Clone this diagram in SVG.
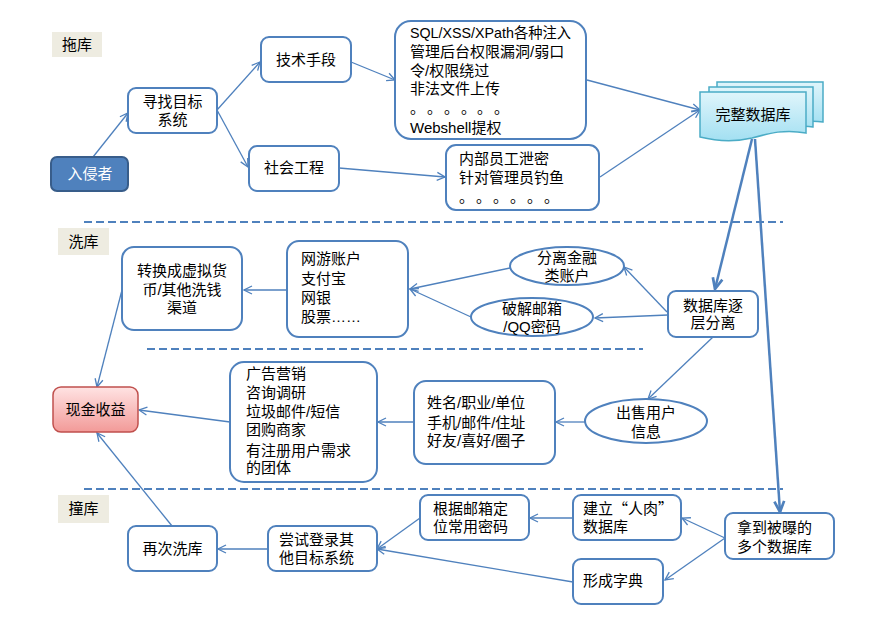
<svg xmlns="http://www.w3.org/2000/svg" width="874" height="627" viewBox="0 0 874 627">
<defs>
<style>
.t{font-family:"Liberation Sans","Noto Sans CJK SC",sans-serif;font-size:15px;fill:#000}
.c{text-anchor:middle}
.box{fill:#fff;stroke:#4F81BD;stroke-width:2}
.lbl{fill:#EEECE1}
.ln{fill:none;stroke:#4F81BD;stroke-width:1.3}
.thick{fill:none;stroke:#4F81BD;stroke-width:2.5}
.dash{fill:none;stroke:#4F81BD;stroke-width:2;stroke-dasharray:8 4}
.doc{fill:url(#gDoc);stroke:#4BACC6;stroke-width:1.5}
.cj{font-family:"Noto Sans CJK SC",sans-serif}
</style>
<linearGradient id="gDoc" x1="0" y1="0" x2="0" y2="1">
<stop offset="0" stop-color="#E0F5FB"/>
<stop offset="1" stop-color="#A3E0F2"/>
</linearGradient>
<linearGradient id="gCash" x1="0" y1="0" x2="0" y2="1">
<stop offset="0" stop-color="#FFE3E3"/>
<stop offset="1" stop-color="#F29A98"/>
</linearGradient>
<marker id="ar" viewBox="0 0 10 10" refX="9" refY="5" markerWidth="10" markerHeight="10" markerUnits="userSpaceOnUse" orient="auto">
<path d="M1,1 L9,5 L1,9" fill="none" stroke="#4F81BD" stroke-width="1.3"/>
</marker>
<marker id="arT" viewBox="0 0 12 12" refX="11" refY="6" markerWidth="13" markerHeight="13" markerUnits="userSpaceOnUse" orient="auto">
<path d="M1,1.5 L11,6 L1,10.5" fill="none" stroke="#4F81BD" stroke-width="2.5"/>
</marker>
</defs>
<rect width="874" height="627" fill="#fff"/>

<g id="dividers">
<line class="dash" x1="84" y1="222" x2="783" y2="222"/>
<line class="dash" x1="147" y1="349" x2="643" y2="349"/>
<line class="dash" x1="84" y1="489" x2="783" y2="489"/>
</g>

<g id="connectors">
<line class="ln" x1="93" y1="157" x2="128" y2="113" marker-end="url(#ar)"/>
<line class="ln" x1="217" y1="110" x2="260" y2="62" marker-end="url(#ar)"/>
<line class="ln" x1="217" y1="110" x2="248" y2="167" marker-end="url(#ar)"/>
<line class="ln" x1="351" y1="62" x2="395" y2="80" marker-end="url(#ar)"/>
<line class="ln" x1="339" y1="168" x2="445" y2="177" marker-end="url(#ar)"/>
<line class="ln" x1="587" y1="80" x2="700" y2="110" marker-end="url(#ar)"/>
<line class="ln" x1="600" y1="177" x2="700" y2="110" marker-end="url(#ar)"/>
<line class="thick" x1="752" y1="139" x2="715" y2="289" marker-end="url(#arT)"/>
<line class="thick" x1="755" y1="139" x2="780" y2="512" marker-end="url(#arT)"/>
<line class="ln" x1="668" y1="315" x2="595" y2="318" marker-end="url(#ar)"/>
<line class="ln" x1="667" y1="312" x2="624" y2="267" marker-end="url(#ar)"/>
<line class="ln" x1="510" y1="268" x2="410" y2="289" marker-end="url(#ar)"/>
<line class="ln" x1="471" y1="317" x2="410" y2="289" marker-end="url(#ar)"/>
<line class="ln" x1="287" y1="290" x2="244" y2="290" marker-end="url(#ar)"/>
<line class="ln" x1="122" y1="290" x2="97" y2="387" marker-end="url(#ar)"/>
<line class="ln" x1="713" y1="337" x2="648" y2="399" marker-end="url(#ar)"/>
<line class="ln" x1="585" y1="422" x2="556" y2="422" marker-end="url(#ar)"/>
<line class="ln" x1="414" y1="422" x2="378" y2="422" marker-end="url(#ar)"/>
<line class="ln" x1="230" y1="422" x2="139" y2="410" marker-end="url(#ar)"/>
<line class="ln" x1="172" y1="526" x2="97" y2="433" marker-end="url(#ar)"/>
<line class="ln" x1="268" y1="549" x2="218" y2="549" marker-end="url(#ar)"/>
<line class="ln" x1="420" y1="518" x2="377" y2="549" marker-end="url(#ar)"/>
<line class="ln" x1="573" y1="582" x2="377" y2="549" marker-end="url(#ar)"/>
<line class="ln" x1="573" y1="518" x2="530" y2="518" marker-end="url(#ar)"/>
<line class="ln" x1="725" y1="538" x2="682" y2="518" marker-end="url(#ar)"/>
<line class="ln" x1="725" y1="538" x2="665" y2="580" marker-end="url(#ar)"/>
</g>

<g id="lbl-tuoku"><rect class="lbl" x="52" y="32" width="50" height="25"/><text class="t c" x="77" y="50">拖库</text></g>
<g id="lbl-xiku"><rect class="lbl" x="58" y="228" width="51" height="27"/><text class="t c" x="83.5" y="247">洗库</text></g>
<g id="lbl-zhuangku"><rect class="lbl" x="58" y="495" width="51" height="28"/><text class="t c" x="83.5" y="514">撞库</text></g>

<g id="intruder"><rect x="51" y="157" width="77" height="34" rx="6" fill="#4F81BD" stroke="#385D8A" stroke-width="2"/><text class="t c" x="90" y="179" style="fill:#fff">入侵者</text></g>

<g id="find"><rect class="box" x="128" y="88" width="89" height="45" rx="8"/><text class="t c" x="172.5" y="107">寻找目标</text><text class="t c" x="172.5" y="125">系统</text></g>

<g id="tech"><rect class="box" x="261" y="37" width="90" height="45" rx="8"/><text class="t c" x="306" y="65">技术手段</text></g>

<g id="social"><rect class="box" x="249" y="146" width="90" height="45" rx="8"/><text class="t c" x="294" y="173">社会工程</text></g>

<g id="sql"><rect class="box" x="395" y="21" width="191" height="118" rx="16"/>
<text class="t" x="410" y="38" textLength="161" lengthAdjust="spacingAndGlyphs">SQL/XSS/XPath各种注入</text>
<text class="t" x="410" y="57">管理后台权限漏洞/弱口</text>
<text class="t" x="410" y="76">令/权限绕过</text>
<text class="t" x="410" y="94">非法文件上传</text>
<text class="t cj" x="410 427 444 461 477 494" y="113">。。。。。。</text>
<text class="t" x="410" y="133">Webshell提权</text>
</g>

<g id="insider"><rect class="box" x="446" y="145" width="153" height="65" rx="10"/>
<text class="t" x="459" y="164">内部员工泄密</text>
<text class="t" x="459" y="183">针对管理员钓鱼</text>
<text class="t cj" x="459 476 493 510 527 544" y="202">。。。。。。</text>
</g>

<g id="fulldb">
<path class="doc" d="M717,82 H823 V122 C810,120 800,122 790,124 L790,100 L717,100 Z"/>
<path class="doc" d="M709,87 H813 V127 C800,125 790,128 780,131 L780,105 L709,105 Z"/>
<path class="doc" d="M700,92 H806 V133 C785,129 770,133 752,138 C735,142 716,141 700,137 Z"/>
<text class="t c" x="753" y="120">完整数据库</text>
</g>

<g id="convert"><rect class="box" x="122" y="247" width="120" height="83" rx="12"/>
<text class="t c" x="182" y="276">转换成虚拟货</text>
<text class="t c" x="182" y="295">币/其他洗钱</text>
<text class="t c" x="182" y="313">渠道</text>
</g>

<g id="accounts"><rect class="box" x="287" y="241" width="121" height="96" rx="12"/>
<text class="t" x="301" y="264">网游账户</text>
<text class="t" x="301" y="284">支付宝</text>
<text class="t" x="301" y="303">网银</text>
<text class="t" x="301" y="322">股票……</text>
</g>

<g id="financial"><ellipse class="box" cx="567" cy="266" rx="57" ry="19"/>
<text class="t c" x="567" y="263">分离金融</text>
<text class="t c" x="567" y="281">类账户</text>
</g>

<g id="crack"><ellipse class="box" cx="532" cy="317" rx="61" ry="19"/>
<text class="t c" x="532" y="314">破解邮箱</text>
<text class="t c" x="532" y="332">/QQ密码</text>
</g>

<g id="split"><rect class="box" x="668" y="291" width="90" height="46" rx="8"/>
<text class="t c" x="713" y="311">数据库逐</text>
<text class="t c" x="713" y="328">层分离</text>
</g>

<g id="sell"><ellipse class="box" cx="646" cy="421" rx="61" ry="22"/>
<text class="t c" x="646" y="418">出售用户</text>
<text class="t c" x="646" y="437">信息</text>
</g>

<g id="userinfo"><rect class="box" x="414" y="381" width="141" height="83" rx="12"/>
<text class="t" x="427" y="408">姓名/职业/单位</text>
<text class="t" x="427" y="428">手机/邮件/住址</text>
<text class="t" x="427" y="446">好友/喜好/圈子</text>
</g>

<g id="buyers"><rect class="box" x="230" y="362" width="147" height="120" rx="14"/>
<text class="t" x="246" y="379">广告营销</text>
<text class="t" x="246" y="398">咨询调研</text>
<text class="t" x="246" y="417">垃圾邮件/短信</text>
<text class="t" x="246" y="435">团购商家</text>
<text class="t" x="246" y="456">有注册用户需求</text>
<text class="t" x="246" y="473">的团体</text>
</g>

<g id="cash"><rect x="53" y="387" width="85" height="45" rx="8" fill="url(#gCash)" stroke="#C0504D" stroke-width="1.5"/>
<text class="t c" x="95.5" y="415">现金收益</text>
</g>

<g id="rewash"><rect class="box" x="128" y="526" width="89" height="45" rx="8"/><text class="t c" x="172.5" y="554">再次洗库</text></g>

<g id="trylogin"><rect class="box" x="268" y="526" width="109" height="45" rx="8"/>
<text class="t" x="279" y="545">尝试登录其</text>
<text class="t" x="279" y="563">他目标系统</text>
</g>

<g id="locate"><rect class="box" x="420" y="495" width="109" height="45" rx="8"/>
<text class="t" x="433" y="514">根据邮箱定</text>
<text class="t" x="433" y="532">位常用密码</text>
</g>

<g id="renrou"><rect class="box" x="573" y="495" width="108" height="45" rx="8"/>
<text class="t cj" x="583" y="514">建立“人肉”</text>
<text class="t" x="583" y="532">数据库</text>
</g>

<g id="exposed"><rect class="box" x="725" y="513" width="109" height="46" rx="8"/>
<text class="t" x="737" y="533">拿到被曝的</text>
<text class="t" x="737" y="552">多个数据库</text>
</g>

<g id="dict"><rect class="box" x="573" y="559" width="90" height="45" rx="8"/><text class="t" x="583" y="586">形成字典</text></g>
</svg>
